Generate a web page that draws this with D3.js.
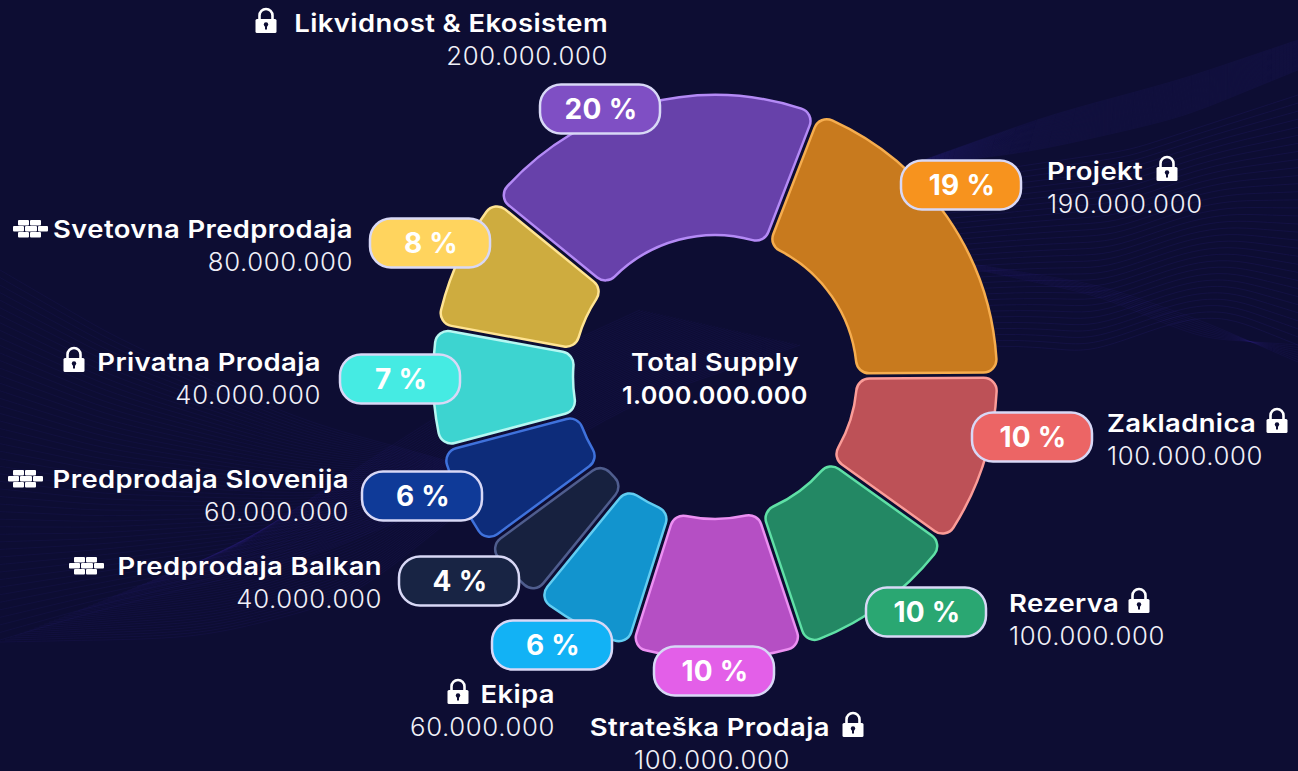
<!DOCTYPE html>
<html lang="sl">
<head>
  <meta charset="UTF-8">
  <title>Total Supply</title>
  <style>
    html, body { margin: 0; background: #0d0d33; }
    svg { display: block; }
    text { font-family: Inter, "Open Sans", sans-serif; fill: #fff; }
    .title { font-size: 24.5px; font-weight: 600; letter-spacing: 0.35px; }
    .amount { font-size: 25px; font-weight: 300; fill: #f0f0f8; letter-spacing: 0.6px; }
    .pct { font-size: 28px; font-weight: 700; text-anchor: middle; letter-spacing: 0.3px; }
    .slice { stroke-width: 2.5px; }
    .badge { stroke: #d8d8f6; stroke-width: 2.5px; }
    .wave { fill: none; stroke: #2b2180; }
  </style>
</head>
<body>
  <svg id="chart" width="1298" height="771"></svg>
  <script src="https://d3js.org/d3.v7.min.js"></script>
  <script>
    // data, clockwise starting with Projekt
    var categories = ['Projekt', 'Zakladnica', 'Rezerva', 'Strateška Prodaja', 'Ekipa',
      'Predprodaja Balkan', 'Predprodaja Slovenija', 'Privatna Prodaja', 'Svetovna Predprodaja', 'Likvidnost & Ekosistem'];
    var shares = [19, 10, 10, 10, 6, 4, 6, 7, 8, 20];
    var amounts = ['190.000.000', '100.000.000', '100.000.000', '100.000.000', '60.000.000',
      '40.000.000', '60.000.000', '40.000.000', '80.000.000', '200.000.000'];
    var icons = ['lock', 'lock', 'lock', 'lock', 'lock', 'bricks', 'bricks', 'lock', 'bricks', 'lock'];
    var totalLabel = 'Total Supply';
    var totalAmount = '1.000.000.000';

    // colours
    var badgeColors = ['#f7931e', '#ec6565', '#2aa772', '#e35fe8', '#12b2f5', '#182444', '#0f3a98', '#45ebe3', '#ffd45e', '#7f4fc4'];
    var sliceColors = ['#c87a1e', '#bd5157', '#238864', '#b54fc4', '#1294ce', '#17213f', '#0d2c7a', '#3dd4d0', '#ceac3f', '#6741aa'];
    var edgeColors = ['#f6ad4e', '#fb9c98', '#5fe0a6', '#ec90f2', '#62cdf2', '#4f5d8e', '#3f72dc', '#b5f7f2', '#ffe493', '#b48af6'];

    // hand placed annotations: badge centre, text anchor, icon centre
    var badgeCenters = [[961, 185], [1032, 437], [926, 612], [714, 671], [552, 645], [459, 581], [422, 496], [400, 379], [430, 243], [600, 109]];
    var labelSpots = [
      { x: 1047, y: 180, anchor: 'start', iconX: 1167 },
      { x: 1107, y: 432, anchor: 'start', iconX: 1277 },
      { x: 1009, y: 612, anchor: 'start', iconX: 1139 },
      { x: 830, y: 736, anchor: 'end', iconX: 853, amountX: 712, amountAnchor: 'middle' },
      { x: 555, y: 703, anchor: 'end', iconX: 458 },
      { x: 382, y: 575, anchor: 'end', iconX: 87 },
      { x: 349, y: 488, anchor: 'end', iconX: 26 },
      { x: 321, y: 371, anchor: 'end', iconX: 74 },
      { x: 353, y: 238, anchor: 'end', iconX: 31 },
      { x: 608, y: 32, anchor: 'end', iconX: 266 }
    ];

    // background mesh: each ribbon blends between two hand read edges
    var ribbons = [
      { a: [[915, 163], [1050, 115], [1180, 80], [1298, 40]], b: [[915, 167], [1040, 150], [1180, 118], [1298, 70]], n: 36, o: 0.2 },
      { a: [[960, 175], [1130, 150], [1298, 95]], b: [[850, 350], [1010, 345], [1090, 352], [1210, 310], [1298, 345]], n: 32, o: 0.3 },
      { a: [[960, 262], [1100, 285], [1200, 320], [1298, 362]], b: [[960, 266], [1100, 296], [1200, 338], [1298, 345]], n: 8, o: 0.22 },
      { a: [[0, 270], [120, 340], [300, 420], [480, 470]], b: [[0, 640], [100, 610], [300, 560], [480, 490]], n: 50, o: 0.2 },
      { a: [[240, 545], [400, 440], [520, 365], [640, 310]], b: [[0, 642], [200, 638], [350, 600], [500, 480], [640, 400], [800, 345]], n: 50, o: 0.22 }
    ];

    var cx = 715, cy = 377;
    var outerR = 282, innerR = 142;
    var startAngle = 21.2 * Math.PI / 180;

    var svg = d3.select('#chart');

    // Draw the background mesh
    var waveLine = d3.line().curve(d3.curveBasis);
    var mesh = svg.append('g');
    ribbons.forEach(function(r) {
      for (var i = 0; i < r.n; i++) {
        var t = i / (r.n - 1);
        var pts = d3.range(0, 1.001, 0.1).map(function(u) {
          var pa = along(r.a, u), pb = along(r.b, u);
          return [pa[0] + (pb[0] - pa[0]) * t, pa[1] + (pb[1] - pa[1]) * t];
        });
        mesh.append('path').attr('class', 'wave')
          .attr('stroke-opacity', r.o).attr('stroke-width', 0.7)
          .attr('d', waveLine(pts));
      }
    });
    function along(p, u) {
      var s = u * (p.length - 1), k = Math.min(Math.floor(s), p.length - 2), f = s - k;
      return [p[k][0] + (p[k + 1][0] - p[k][0]) * f, p[k][1] + (p[k + 1][1] - p[k][1]) * f];
    }

    // Montserrat is not installed, so stretch Inter to the same width
    function widen(sel, factor) {
      sel.attr('lengthAdjust', 'spacingAndGlyphs')
        .attr('textLength', sel.node().getComputedTextLength() * factor);
    }

    // Donut
    var pie = d3.pie().sort(null).startAngle(startAngle).endAngle(startAngle + 2 * Math.PI);
    var arc = d3.arc().innerRadius(innerR).outerRadius(outerR).cornerRadius(13).padAngle(0.017);

    svg.append('g').attr('transform', 'translate(' + cx + ',' + cy + ')')
      .selectAll('path').data(pie(shares)).enter().append('path')
      .attr('class', 'slice')
      .attr('d', arc)
      .attr('fill', function(d, i) { return sliceColors[i]; })
      .attr('stroke', function(d, i) { return edgeColors[i]; });

    // Centre text
    svg.append('text').attr('class', 'title').attr('x', cx).attr('y', 371).attr('text-anchor', 'middle').text(totalLabel).call(widen, 1.11);
    svg.append('text').attr('class', 'title').attr('x', cx).attr('y', 404).attr('text-anchor', 'middle').text(totalAmount).call(widen, 1.03);

    // Badges
    var badges = svg.append('g').selectAll('g').data(shares).enter().append('g')
      .attr('transform', function(d, i) { return 'translate(' + badgeCenters[i] + ')'; });
    badges.append('rect').attr('class', 'badge')
      .attr('x', -60).attr('y', -24.5).attr('width', 120).attr('height', 49).attr('rx', 21)
      .attr('fill', function(d, i) { return badgeColors[i]; });
    badges.append('text').attr('class', 'pct').attr('x', 1).attr('y', 10).text(function(d) { return d + ' %'; });

    // Labels
    labelSpots.forEach(function(s, i) {
      svg.append('text').attr('class', 'title').attr('x', s.x).attr('y', s.y)
        .attr('text-anchor', s.anchor).text(categories[i]).call(widen, 1.12);
      svg.append('text').attr('class', 'amount').attr('x', s.amountX || s.x).attr('y', s.y + 33)
        .attr('text-anchor', s.amountAnchor || s.anchor).text(amounts[i]).call(widen, 1.03);
      if (icons[i] === 'lock') drawLock(s.iconX, s.y - 11); else drawBricks(s.iconX, s.y - 9);
    });

    function drawLock(x, y) {
      var g = svg.append('g').attr('transform', 'translate(' + x + ',' + y + ')');
      g.append('path').attr('fill', 'none').attr('stroke', '#fff').attr('stroke-width', 2.6)
        .attr('d', 'M-6.5,-1V-5.5a6.5,6.5 0 0 1 13,0V-1');
      g.append('rect').attr('x', -10.5).attr('y', -2).attr('width', 21).attr('height', 14).attr('rx', 1.5).attr('fill', '#fff');
      g.append('circle').attr('cy', 3.5).attr('r', 2.2).attr('fill', '#0d0d33');
      g.append('rect').attr('x', -1).attr('y', 4).attr('width', 2).attr('height', 4.5).attr('fill', '#0d0d33');
    }

    function drawBricks(x, y) {
      var g = svg.append('g').attr('transform', 'translate(' + x + ',' + y + ')').attr('fill', '#fff');
      [[-13, -9, 11], [-1, -9, 11], [-18, -3, 11], [-6, -3, 12], [7, -3, 10], [-13, 3, 11], [-1, 3, 11]].forEach(function(b) {
        g.append('rect').attr('x', b[0]).attr('y', b[1]).attr('width', b[2]).attr('height', 5.5).attr('rx', 1);
      });
    }
  </script>
</body>
</html>
